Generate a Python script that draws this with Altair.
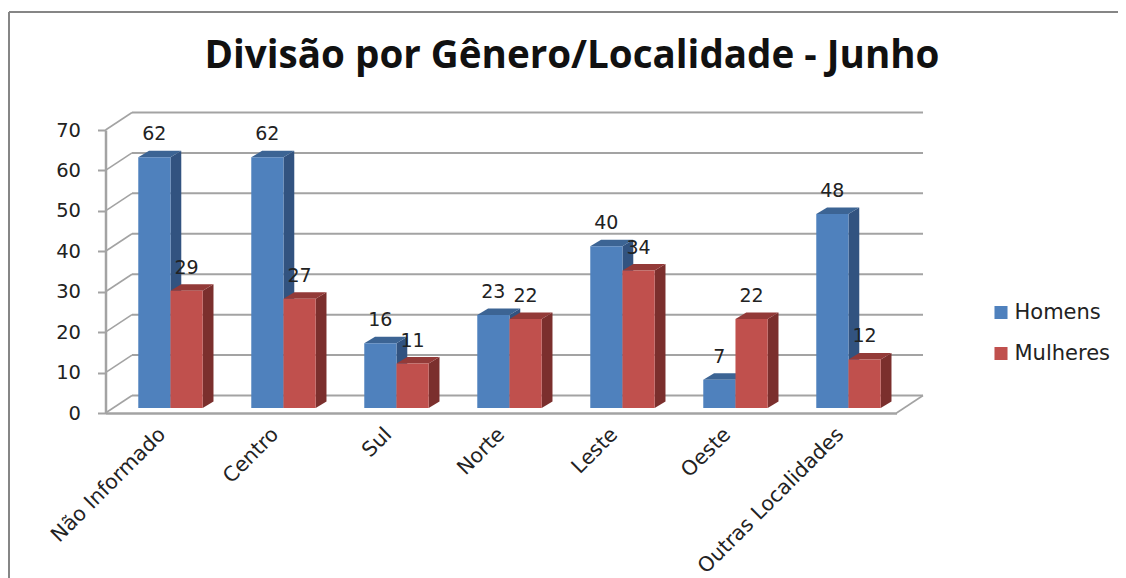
import altair as alt
import pandas as pd

categories = ["Não Informado", "Centro", "Sul", "Norte", "Leste", "Oeste", "Outras Localidades"]
homens = [62, 62, 16, 23, 40, 7, 48]
mulheres = [29, 27, 11, 22, 34, 22, 12]
ticks = [0, 10, 20, 30, 40, 50, 60, 70]

# plot geometry, in scale units
W, H = 791, 283
FLOOR = 1.24      # bars stand this far up the floor
BAR_DX, BAR_DY = 0.0956, 1.62   # bar depth
WALL_DX, WALL_DY = 0.2345, 4.33  # wall depth
BLUE0, BAR_W = 0.290, 0.285

sides, tops, fronts, labels = [], [], [], []
for i in range(len(categories)):
    for s, (name, v) in enumerate([("Homens", homens[i]), ("Mulheres", mulheres[i])]):
        l = i + BLUE0 + s * BAR_W
        r = l + BAR_W
        top = v + FLOOR
        fronts.append(dict(x=l, x2=r, y=top, y2=FLOOR, serie=name))
        labels.append(dict(x=(l + r) / 2, y=top, v=v, serie=name))
        key = f"{name}{i}"
        sides += [
            dict(k=key, serie=name, x=r, y=top, y2=FLOOR),
            dict(k=key, serie=name, x=r + BAR_DX, y=top + BAR_DY, y2=FLOOR + BAR_DY),
        ]
        tops += [
            dict(k=key, serie=name, x=l, y=top, y2=top),
            dict(k=key, serie=name, x=l + BAR_DX, y=top + BAR_DY, y2=top),
            dict(k=key, serie=name, x=r, y=top + BAR_DY, y2=top),
            dict(k=key, serie=name, x=r + BAR_DX, y=top + BAR_DY, y2=top + BAR_DY),
        ]
sides, tops, fronts, labels = map(pd.DataFrame, (sides, tops, fronts, labels))

n = len(categories)
grid = pd.DataFrame({"t": ticks})
grid["x"] = WALL_DX
grid["x2"] = n + WALL_DX
grid["yb"] = grid["t"] + WALL_DY
grid["dx0"] = 0.0
grid["dx1"] = WALL_DX
floor_edge = pd.DataFrame([dict(x=n, x2=n + WALL_DX, y=0, y2=WALL_DY)])

GREY = "#a3a3a3"
TICKFONT = "DejaVu Sans"
xs = alt.Scale(domain=[0, n], nice=False, zero=False)
ys = alt.Scale(domain=[0, 70], nice=False, zero=False)
names = "[" + ",".join(f"'{c}'" for c in categories) + "]"
X = alt.X("x:Q", scale=xs, title=None, axis=alt.Axis(
    values=[i + 0.5 for i in range(n)], labelExpr=f"{names}[datum.value-0.5]",
    grid=False, ticks=False, domainColor=GREY, domainWidth=2.5,
    labelAngle=-45, labelAlign="right", labelBaseline="middle", labelPadding=18, labelLimit=400,
    labelFont=TICKFONT, labelFontSize=20.5, labelColor="#222222", labelOverlap=False, labelBound=False, labelFlush=False))
Y = alt.Y("y:Q", scale=ys, title=None, axis=alt.Axis(
    values=ticks, grid=False, tickColor=GREY, tickSize=8, tickWidth=2,
    domainColor=GREY, domainWidth=2.5, labelPadding=17,
    labelFont=TICKFONT, labelFontSize=19.5, labelColor="#222222"))

frame_src = pd.DataFrame({"a": [0]})
frame_top = alt.Chart(frame_src).mark_rule(color="#868686", strokeWidth=2).encode(
    x=alt.value(-96.5), x2=alt.value(1020.5), y=alt.value(-118))
frame_left = alt.Chart(frame_src).mark_rule(color="#868686", strokeWidth=2).encode(
    x=alt.value(-96.5), y=alt.value(-118), y2=alt.value(448))

walls = alt.Chart(grid).mark_rule(color=GREY, strokeWidth=2).encode(
    x=alt.X("x:Q", scale=xs), x2="x2:Q", y=alt.Y("yb:Q", scale=ys))
diag = alt.Chart(grid).mark_rule(color=GREY, strokeWidth=1.6).encode(
    x=alt.X("dx0:Q", scale=xs), x2="dx1:Q", y=alt.Y("t:Q", scale=ys), y2="yb:Q")
edge = alt.Chart(floor_edge).mark_rule(color=GREY, strokeWidth=1.6).encode(
    x=alt.X("x:Q", scale=xs), x2="x2:Q", y=alt.Y("y:Q", scale=ys), y2="y2:Q")


def faces(df, serie, color):
    return alt.Chart(df[df.serie == serie]).mark_area(color=color, interpolate="linear", orient="vertical", opacity=1).encode(
        x=alt.X("x:Q", scale=xs), y=alt.Y("y:Q", scale=ys, stack=False), y2="y2:Q",
        detail="k:N")


front = alt.Chart(fronts).mark_rect().encode(
    x=X, x2="x2:Q", y=Y, y2="y2:Q",
    color=alt.Color("serie:N", scale=alt.Scale(domain=["Homens", "Mulheres"], range=["#4f81bd", "#c0504d"]),
                    legend=alt.Legend(title=None, orient="none", legendX=885, legendY=172,
                                      symbolType="square", symbolSize=170, symbolStrokeWidth=0,
                                      labelFont=TICKFONT, labelFontSize=21, labelColor="#222222",
                                      labelOffset=3, rowPadding=19)))

text = alt.Chart(labels).mark_text(font=TICKFONT, fontSize=19, color="#222222", dy=-23, baseline="middle").encode(
    x=alt.X("x:Q", scale=xs), y=alt.Y("y:Q", scale=ys), text="v:Q")

chart = alt.layer(
    frame_top, frame_left, walls, diag, edge,
    faces(sides, "Homens", "#325380"), faces(tops, "Homens", "#3c6494"),
    faces(sides, "Mulheres", "#7b2f2d"), faces(tops, "Mulheres", "#933a38"),
    front, text,
).properties(
    width=W, height=H,
    title=alt.TitleParams("Divisão por Gênero/Localidade - Junho", font="Open Sans", fontWeight="bold",
                          fontSize=38.6, color="#111111", anchor="middle", frame="group", dx=71, offset=-66),
    padding={"left": 97.5, "top": 122, "right": 221.5, "bottom": 165},
    autosize=alt.AutoSizeParams(type="none"),
).configure_view(stroke=None)

chart.save("out.html", embed_options={"renderer": "svg", "actions": False})
